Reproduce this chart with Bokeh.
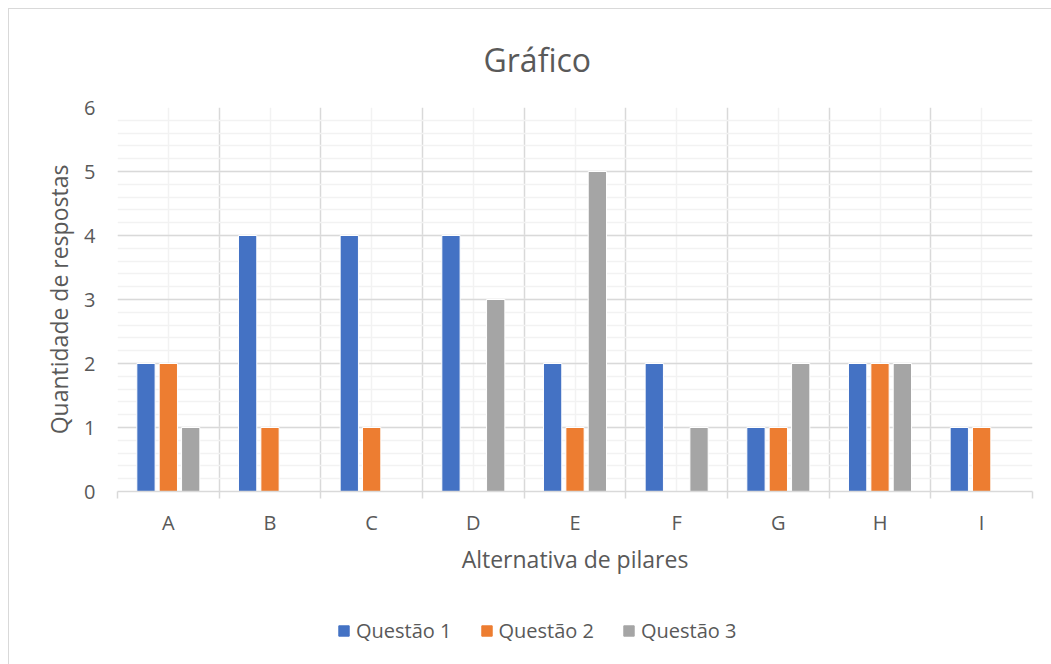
from bokeh.plotting import figure
from bokeh.layouts import column
from bokeh.models import ColumnDataSource, FixedTicker, Legend, LegendItem
from bokeh.transform import dodge
from bokeh.embed import file_html
from bokeh.resources import INLINE

categories = ["A", "B", "C", "D", "E", "F", "G", "H", "I"]
questao1 = [2, 4, 4, 4, 2, 2, 1, 2, 1]
questao2 = [2, 1, 1, 0, 1, 0, 1, 2, 1]
questao3 = [1, 0, 0, 3, 5, 1, 2, 2, 0]
series_names = ["Questão 1", "Questão 2", "Questão 3"]
series_keys = ["q1", "q2", "q3"]
colors = ["#4472C4", "#ED7D31", "#A5A5A5"]
y_ticks = [0, 1, 2, 3, 4, 5, 6]
y_minor = [i / 5 for i in range(31)]

FONT = "Open Sans"
TXT = "#595959"
GRID = "#d9d9d9"

n = len(categories)
centers = [i + 0.5 for i in range(n)]
bounds = list(range(n + 1))

src = ColumnDataSource(dict(x=centers, q1=questao1, q2=questao2, q3=questao3))

p = figure(width=1042, height=591, x_range=(0, n), y_range=(0, 6),
           output_backend="svg", toolbar_location=None,
           min_border_left=108, min_border_right=19, min_border_top=98,
           min_border_bottom=109)
p.outline_line_color = None

offsets = [-0.22, 0.0, 0.22]
for key, col, off in zip(series_keys, colors, offsets):
    p.vbar(x=dodge("x", off), top=key, width=0.18, bottom=0, source=src,
           fill_color=col, line_color="white", line_width=1)

# grids
p.xgrid.ticker = FixedTicker(ticks=bounds, minor_ticks=centers)
p.xgrid.grid_line_color = GRID
p.xgrid.grid_line_width = 1.5
p.xgrid.minor_grid_line_color = "#f2f2f2"
p.xgrid.minor_grid_line_width = 1.5
p.ygrid.ticker = FixedTicker(ticks=y_ticks, minor_ticks=y_minor)
p.ygrid.grid_line_color = GRID
p.ygrid.grid_line_width = 1.5
p.ygrid.minor_grid_line_color = "#f2f2f2"
p.ygrid.minor_grid_line_width = 1.5

# x axis
p.xaxis.ticker = FixedTicker(ticks=centers, minor_ticks=bounds)
p.xaxis.major_label_overrides = {c: lab for c, lab in zip(centers, categories)}
p.xaxis.major_tick_line_color = None
p.xaxis.major_tick_out = 0
p.xaxis.major_tick_in = 0
p.xaxis.minor_tick_line_color = GRID
p.xaxis.minor_tick_line_width = 1.5
p.xaxis.minor_tick_out = 7
p.xaxis.minor_tick_in = 0
p.xaxis.axis_line_color = GRID
p.xaxis.axis_line_width = 1.5
p.xaxis.major_label_standoff = 10
p.xaxis.axis_label = "Alternativa de pilares"
p.xaxis.axis_label_standoff = 4

# y axis
p.yaxis.ticker = FixedTicker(ticks=y_ticks)
p.yaxis.axis_line_color = None
p.yaxis.major_tick_line_color = None
p.yaxis.minor_tick_line_color = None
p.yaxis.major_tick_out = 0
p.yaxis.major_label_standoff = 22
p.yaxis.axis_label = "Quantidade de respostas"
p.yaxis.axis_label_standoff = 6

for ax in (p.xaxis, p.yaxis):
    ax.major_label_text_font = FONT
    ax.major_label_text_font_size = "20px"
    ax.major_label_text_color = TXT
    ax.axis_label_text_font = FONT
    ax.axis_label_text_font_size = "23px"
    ax.axis_label_text_font_style = "normal"
    ax.axis_label_text_color = TXT

p.title.text = "Gráfico"
p.title.align = "left"
p.title.vertical_align = "top"
p.title.offset = 366
p.title.standoff = 50
p.title.text_font = FONT
p.title.text_font_size = "32px"
p.title.text_font_style = "normal"
p.title.text_color = TXT

# legend strip below the chart
leg = figure(width=1042, height=64, x_range=(0, n), y_range=(0, 6),
             output_backend="svg", toolbar_location=None,
             x_axis_location=None, y_axis_location=None, min_border=0)
leg.outline_line_color = None
leg.xgrid.visible = False
leg.ygrid.visible = False
items = []
for key, name, col in zip(series_keys, series_names, colors):
    r = leg.vbar(x="x", top=key, width=0.18, source=src, fill_color=col,
                 line_color=col, visible=False)
    items.append(LegendItem(label=name, renderers=[r]))

legend = Legend(items=items, orientation="horizontal", location=(220, 20),
                label_text_font=FONT, label_text_font_size="20px",
                label_text_color=TXT, glyph_width=13, glyph_height=13,
                label_standoff=6, spacing=28, margin=0, padding=0,
                border_line_color=None, background_fill_alpha=0)
leg.add_layout(legend, "center")

layout = column(p, leg, spacing=0)
layout.margin = (8, 0, 0, 8)
layout.styles = {"border-left": "1px solid #d9d9d9", "border-top": "1px solid #d9d9d9"}

open("out.html", "w").write(file_html(layout, INLINE))
